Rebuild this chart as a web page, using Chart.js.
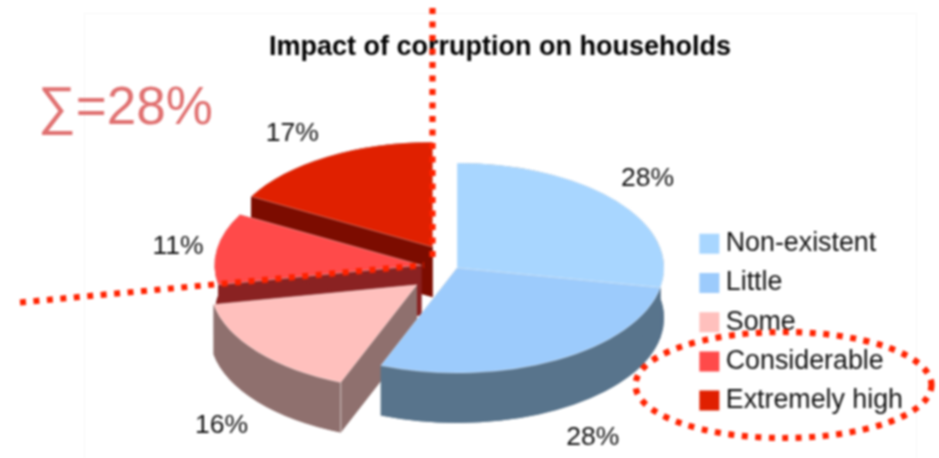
<!DOCTYPE html>
<html>
<head>
<meta charset="utf-8">
<title>Impact of corruption on households</title>
<script src="https://cdn.jsdelivr.net/npm/chart.js@4"></script>
<style>
  html, body { margin: 0; padding: 0; background: #fff; }
  canvas { display: block; filter: blur(0.8px); }
</style>
</head>
<body>
<canvas id="pie" width="939" height="458"></canvas>
<script>
const categories = ['Non-existent', 'Little', 'Some', 'Considerable', 'Extremely high'];
const shares = [28, 28, 16, 11, 17];
const topColors = ['#a8d6ff', '#9ccbfc', '#ffc0bd', '#ff4a4a', '#e02000'];
const wallColors = ['#58748c', '#58748c', '#8f706e', '#8a2222', '#7c0c00'];
const titleText = 'Impact of corruption on households';
const sumText = '∑=28%';

// fake 3D: arcs are squashed in y and extruded downwards
const centerX = 457;
const centerY = 268;
const squash = 0.507;
const depth = 50;
const explode = [0, 0, 52, 36, 48];
const wallOrder = [4, 3, 2, 0, 1];
const labelNudge = [[31, -22.5], [36, 77.5], [-36, 73.5], [-39, -2.5], [-35, -23]];

const FONT = '"Liberation Sans", Arial, sans-serif';
const DOT_RED = '#ff2200';

function squashAround(ctx) {
  ctx.translate(0, centerY);
  ctx.scale(1, squash);
  ctx.translate(0, -centerY);
}

function drawWalls(chart) {
  const ctx = chart.ctx;
  const arcs = chart.getDatasetMeta(0).data;
  wallOrder.forEach(i => {
    const a = arcs[i];
    const R = a.outerRadius;
    const ry = R * squash;
    const sy = centerY + (a.y - centerY) * squash;
    const corners = [a.startAngle, a.endAngle].map(t => [a.x + Math.cos(t) * R, sy + Math.sin(t) * ry]);
    ctx.fillStyle = wallColors[i];

    // bottom sector
    ctx.beginPath();
    ctx.moveTo(a.x, sy + depth);
    ctx.ellipse(a.x, sy + depth, R, ry, 0, a.startAngle, a.endAngle);
    ctx.closePath();
    ctx.fill();

    // curved outer band
    ctx.beginPath();
    ctx.ellipse(a.x, sy, R, ry, 0, a.startAngle, a.endAngle);
    ctx.ellipse(a.x, sy + depth, R, ry, 0, a.endAngle, a.startAngle, true);
    ctx.closePath();
    ctx.fill();

    // the two flat cut faces
    corners.forEach(c => {
      ctx.beginPath();
      ctx.moveTo(a.x, sy);
      ctx.lineTo(c[0], c[1]);
      ctx.lineTo(c[0], c[1] + depth);
      ctx.lineTo(a.x, sy + depth);
      ctx.closePath();
      ctx.fill();
    });
  });

  // light seam on the front corner of the pink slice
  const p = arcs[2];
  const seamX = p.x + Math.cos(p.startAngle) * p.outerRadius;
  const seamY = centerY + (p.y - centerY + Math.sin(p.startAngle) * p.outerRadius) * squash;
  ctx.save();
  ctx.strokeStyle = 'rgba(255,255,255,0.6)';
  ctx.lineWidth = 1;
  ctx.beginPath();
  ctx.moveTo(seamX, seamY);
  ctx.lineTo(seamX, seamY + depth);
  ctx.stroke();
  ctx.restore();
}

function drawPercentLabels(chart) {
  const ctx = chart.ctx;
  const arcs = chart.getDatasetMeta(0).data;
  ctx.save();
  ctx.font = '26.5px ' + FONT;
  ctx.fillStyle = '#111';
  ctx.textAlign = 'center';
  ctx.textBaseline = 'middle';
  arcs.forEach((a, i) => {
    const mid = (a.startAngle + a.endAngle) / 2;
    const x = a.x + Math.cos(mid) * a.outerRadius;
    const y = centerY + (a.y - centerY + Math.sin(mid) * a.outerRadius) * squash;
    ctx.fillText(shares[i] + '%', x + labelNudge[i][0], y + labelNudge[i][1]);
  });
  ctx.restore();
}

function drawNotes(chart) {
  const ctx = chart.ctx;
  ctx.save();
  ctx.fillStyle = '#e07070';
  ctx.font = '53px ' + FONT;
  ctx.textBaseline = 'alphabetic';
  ctx.fillText(sumText, 38, 124);

  ctx.strokeStyle = DOT_RED;
  ctx.lineWidth = 6.2;
  ctx.setLineDash([6, 7.5]);
  ctx.beginPath();
  ctx.moveTo(432.5, 8);
  ctx.lineTo(432.5, 258);
  ctx.moveTo(20, 302.5);
  ctx.lineTo(424, 265);
  ctx.stroke();
  ctx.beginPath();
  ctx.ellipse(783.5, 385, 148, 53, 0, 0, Math.PI * 2);
  ctx.stroke();
  ctx.restore();
}

const fakePie3d = {
  id: 'fakePie3d',
  beforeDraw(chart) {
    const ctx = chart.ctx;
    ctx.save();
    ctx.strokeStyle = '#f7f7f7';
    ctx.lineWidth = 1;
    ctx.strokeRect(84.5, 13.5, 832, 460);
    ctx.restore();
  },
  afterDatasetsUpdate(chart) {
    chart.getDatasetMeta(0).data.forEach((a, i) => {
      const mid = (a.startAngle + a.endAngle) / 2;
      a.x = centerX + Math.cos(mid) * explode[i];
      a.y = centerY + Math.sin(mid) * explode[i];
    });
  },
  beforeDatasetsDraw(chart) {
    drawWalls(chart);
    chart.ctx.save();
    squashAround(chart.ctx);
  },
  afterDatasetsDraw(chart) {
    chart.ctx.restore();
  },
  afterDraw(chart) {
    drawPercentLabels(chart);
    drawNotes(chart);
  }
};

new Chart(document.getElementById('pie').getContext('2d'), {
  type: 'pie',
  data: {
    labels: categories,
    datasets: [{
      data: shares,
      backgroundColor: topColors,
      borderColor: 'rgba(255,255,255,0.45)',
      borderWidth: 1,
      radius: 207,
      clip: false
    }]
  },
  options: {
    responsive: false,
    animation: false,
    events: [],
    layout: { padding: { left: 87, right: 26, top: 0, bottom: 0 } },
    plugins: {
      tooltip: { enabled: false },
      title: {
        display: true,
        text: titleText,
        color: '#000',
        font: { family: FONT, size: 27, weight: 'bold' },
        padding: { top: 31, bottom: 123 }
      },
      legend: {
        position: 'right',
        fullSize: false,
        labels: {
          color: '#111',
          font: { family: FONT, size: 26.8 },
          boxWidth: 6,
          boxHeight: 6,
          padding: 12.4,
          // thick stroke so the 20px swatch sits close to its text
          generateLabels(chart) {
            const items = Chart.overrides.pie.plugins.legend.labels.generateLabels(chart);
            items.forEach(it => {
              it.strokeStyle = it.fillStyle;
              it.lineWidth = 14;
            });
            return items;
          }
        }
      }
    }
  },
  plugins: [fakePie3d]
});
</script>
</body>
</html>
